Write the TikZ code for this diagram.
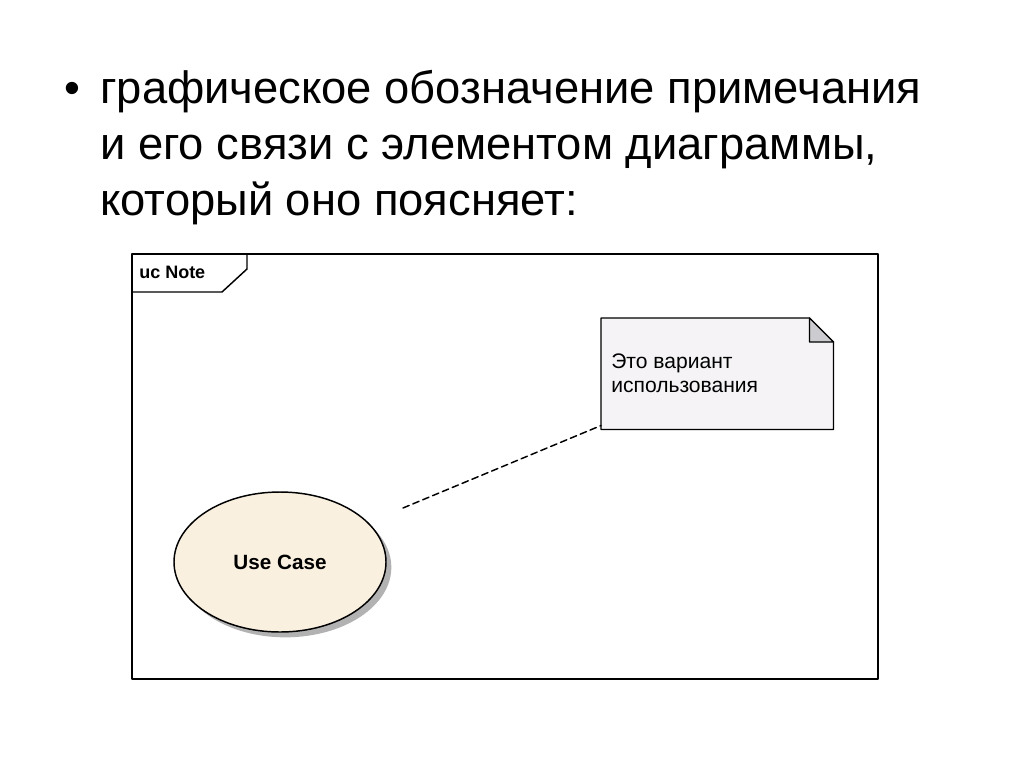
\documentclass[tikz,border=0pt]{standalone}
\usepackage{fontspec}
\setmainfont{Liberation Sans}
\usetikzlibrary{positioning,shapes.geometric,shadows}
\definecolor{ucfill}{RGB}{250,240,224}
\definecolor{notefill}{RGB}{245,243,246}
\definecolor{foldgray}{RGB}{204,204,208}
\begin{document}
\begin{tikzpicture}[x=0.75pt,y=-0.75pt, line join=round, line cap=round]
    \def\fold{18pt} % ugol zametki
    \tikzset{heading/.style={anchor=base west, inner sep=0pt, font=\fontsize{34}{40}\selectfont},
        usecase/.style={ellipse, draw, line width=1.1pt, fill=ucfill, minimum width=159pt, minimum height=105pt,
            font=\bfseries\fontsize{15.5}{18}\selectfont,
            drop shadow={shadow xshift=4pt, shadow yshift=-4pt, fill=gray!60, opacity=1}}}
    \useasboundingbox (0,0) rectangle (1024,768);
    \node[heading, anchor=base] (bul) at (72,103) {•};
    \node[heading] (l1) at (100,103) {графическое обозначение примечания};
    \node[heading] (l2) at (100,159) {и его связи с элементом диаграммы,};
    \node[heading] (l3) at (100,215) {который оно поясняет:};
    % ramka
    \draw[line width=1.1pt] (132,254) rectangle (878,679);
    \draw[line width=1.1pt] (132,292) -- (222,292) -- (247,269) -- (247,254);
    \node[anchor=base west, inner sep=0pt, font=\bfseries\fontsize{13.5}{16}\selectfont] (uc) at (139,278) {uc Note};
    % zametka
    \node[anchor=north west, inner sep=0pt, minimum width=174pt, minimum height=83.25pt] (note) at (601,318) {};
    \filldraw[fill=notefill, line width=0.9pt] (note.south west) -- (note.north west) -- ([xshift=-\fold]note.north east)
        -- ([yshift=-\fold]note.north east) -- (note.south east) -- cycle;
    \filldraw[fill=foldgray, line width=0.9pt] ([xshift=-\fold]note.north east) -- ([xshift=-\fold,yshift=-\fold]note.north east)
        -- ([yshift=-\fold]note.north east) -- cycle;
    \node[anchor=base west, inner sep=0pt, align=left, font=\fontsize{15.8}{18}\selectfont] (ntext) at (611,392) {Это вариант\\использования};
    % variant
    \node[usecase] (uc1) at (280,562) {Use Case};
    \coordinate (lk) at (403,508);
    \draw[dash pattern=on 5pt off 3pt, line width=1.1pt] (lk) -- ([yshift=3pt]note.south west);
\end{tikzpicture}
\end{document}
